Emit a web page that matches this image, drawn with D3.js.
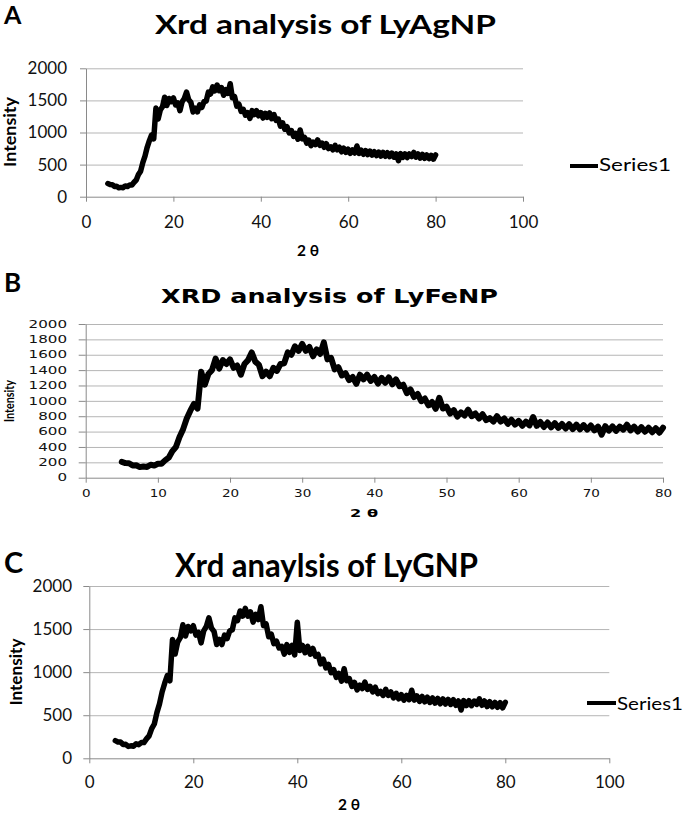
<!DOCTYPE html>
<html><head><meta charset="utf-8">
<script src="https://cdn.jsdelivr.net/npm/d3@7"></script>
<style>body{margin:0;background:#fff}svg{display:block}</style>
</head><body>
<svg id="c" width="685" height="814"></svg>
<script>
// ---- data (2θ sampled from 5° to 80° every 0.5°) ----
const twoThetaStart = 5, twoThetaStep = 0.5;
const intensityAgNP = [
 205,190,188,160,162,138,145,140,168,158,
 182,182,225,260,345,398,530,632,770,872,
 960,900,1380,1210,1350,1400,1550,1420,1530,1480,
 1540,1430,1460,1340,1480,1530,1630,1510,1470,1320,
 1380,1320,1430,1390,1480,1490,1630,1600,1710,1650,
 1740,1650,1700,1580,1670,1610,1760,1540,1560,1410,
 1440,1330,1360,1270,1310,1220,1340,1280,1340,1260,
 1310,1225,1300,1235,1305,1215,1280,1190,1210,1100,
 1150,1050,1090,995,1030,940,985,895,1040,900,
 925,835,880,795,850,810,885,800,835,770,
 825,750,775,730,800,730,770,700,755,690,
 740,675,730,680,790,675,725,660,718,655,
 710,648,700,640,695,632,690,630,685,625,
 680,615,665,560,670,612,668,610,665,625,
 690,615,665,600,658,598,650,592,645,585,
 650];
const intensityFeNP = [
 205,190,188,160,162,138,145,140,168,158,
 182,182,225,260,345,398,530,632,770,872,
 960,900,1380,1210,1350,1400,1550,1420,1530,1480,
 1540,1430,1460,1340,1480,1530,1630,1510,1470,1320,
 1380,1320,1430,1390,1480,1490,1630,1600,1710,1650,
 1740,1650,1700,1580,1670,1610,1760,1540,1560,1410,
 1440,1330,1360,1270,1310,1220,1340,1280,1340,1260,
 1310,1225,1300,1235,1305,1215,1280,1190,1210,1100,
 1150,1050,1090,995,1030,940,985,895,1040,900,
 925,835,880,795,850,810,885,800,835,770,
 825,750,775,730,800,730,770,700,755,690,
 740,675,730,680,790,675,725,660,718,655,
 710,648,700,640,695,632,690,630,685,625,
 680,615,665,560,670,612,668,610,665,625,
 690,615,665,600,658,598,650,592,645,585,
 650];
const intensityGNP = [
 205,190,188,160,162,138,145,140,168,158,
 182,182,225,260,345,398,530,632,770,872,
 960,900,1380,1210,1350,1400,1550,1420,1530,1480,
 1540,1430,1460,1340,1480,1530,1630,1510,1470,1320,
 1380,1320,1430,1390,1480,1490,1630,1600,1710,1650,
 1740,1650,1700,1580,1670,1610,1760,1540,1560,1410,
 1440,1330,1360,1280,1300,1210,1320,1230,1310,1200,
 1580,1250,1310,1225,1300,1210,1275,1185,1205,1095,
 1150,1050,1090,995,1030,940,985,895,1040,900,
 925,835,880,795,850,810,885,800,835,770,
 825,750,775,730,800,730,770,700,755,690,
 740,675,730,680,790,675,725,660,718,655,
 710,648,700,640,695,632,690,630,685,625,
 680,615,665,560,670,612,668,610,665,625,
 690,615,665,600,658,598,650,592,645,585,
 650];
const yTicksAC = [0, 500, 1000, 1500, 2000];
const xTicksAC = [0, 20, 40, 60, 80, 100];
const yTicksB = [0, 200, 400, 600, 800, 1000, 1200, 1400, 1600, 1800, 2000];
const xTicksB = [0, 10, 20, 30, 40, 50, 60, 70, 80];
const titles = ["Xrd analysis of LyAgNP", "XRD analysis of LyFeNP", "Xrd anaylsis of LyGNP"];
const letters = ["A", "B", "C"];
const seriesName = "Series1";
const xTitleText = "2 θ";
const yTitleText = "Intensity";

// ---- layout ----
const panels = [
 {letter: letters[0], title: titles[0], data: intensityAgNP, xTicks: xTicksAC, yTicks: yTicksAC, xMax: 100,
  x0: 86, x1: 523, yTop: 68.3, yBot: 196.7,
  letterPos: {x: 4, y: 24, size: 25}, titlePos: {x: 155, y: 34, size: 27, len: 341, font: "Lato"},
  tick: {font: "Lato", size: 17, yLen: 6, yRight: 67, xLen: 5, xBase: 228, perChar: 0},
  yTitle: {x: 16, y: 132, size: 17, len: 70, font: "Lato"},
  xTitle: {x: 308, y: 256, size: 16, len: 22, font: "Lato"},
  legend: {x0: 570, x1: 598, y: 166, tx: 599, ty: 171, size: 17, len: 72}, stroke: 5.5},
 {letter: letters[1], title: titles[1], data: intensityFeNP, xTicks: xTicksB, yTicks: yTicksB, xMax: 80,
  x0: 85.7, x1: 663, yTop: 324, yBot: 477.7,
  letterPos: {x: 4, y: 292, size: 26}, titlePos: {x: 161, y: 303, size: 20, len: 337, font: "DejaVu Sans"},
  tick: {font: "DejaVu Sans", size: 10, yLen: 7, yRight: 67, xLen: 5, xBase: 497, perChar: 9.6, perCharX: 8.6},
  yTitle: {x: 14, y: 401, size: 12.5, len: 42, font: "Lato"},
  xTitle: {x: 364, y: 517, size: 11, len: 28, font: "DejaVu Sans"},
  legend: null, stroke: 6},
 {letter: letters[2], title: titles[2], data: intensityGNP, xTicks: xTicksAC, yTicks: yTicksAC, xMax: 100,
  x0: 89.3, x1: 609.3, yTop: 586, yBot: 758.3,
  letterPos: {x: 4, y: 573, size: 29}, titlePos: {x: 175, y: 577, size: 33, len: 303, font: "Lato"},
  tick: {font: "Lato", size: 17, yLen: 6, yRight: 72, xLen: 5, xBase: 788, perChar: 0},
  yTitle: {x: 22, y: 672, size: 17, len: 67, font: "Lato"},
  xTitle: {x: 349, y: 810, size: 15, len: 22, font: "Lato"},
  legend: {x0: 587, x1: 616, y: 703, tx: 617, ty: 710, size: 17, len: 66}, stroke: 5.5}
];

const svg = d3.select("#c");
const gridColor = "#b5b5b5", axisColor = "#8a8a8a";
const fmt = d3.format("d");

panels.forEach(p => {
  const g = svg.append("g");
  const x = d3.scaleLinear().domain([0, p.xMax]).range([p.x0, p.x1]);
  const y = d3.scaleLinear().domain([0, 2000]).range([p.yBot, p.yTop]);

  // gridlines
  const grid = g.append("g").attr("transform", `translate(${p.x0},0)`)
    .call(d3.axisLeft(y).tickValues(p.yTicks.filter(v => v > 0)).tickSize(-(p.x1 - p.x0)).tickFormat(""));
  grid.select(".domain").remove();
  grid.selectAll("line").attr("stroke", gridColor).attr("stroke-width", 1);

  // y axis
  const ya = g.append("g").attr("transform", `translate(${p.x0},0)`)
    .call(d3.axisLeft(y).tickValues(p.yTicks).tickFormat(fmt).tickSizeInner(p.tick.yLen).tickSizeOuter(0)
      .tickPadding(p.x0 - p.tick.yLen - p.tick.yRight));
  ya.attr("font-family", p.tick.font).attr("font-size", p.tick.size);
  ya.select(".domain").attr("stroke", axisColor);
  ya.selectAll(".tick line").attr("stroke", axisColor);
  ya.selectAll("text").attr("fill", "#111");
  if (p.tick.perChar) ya.selectAll("text").attr("textLength", d => fmt(d).length * p.tick.perChar).attr("lengthAdjust", "spacingAndGlyphs");

  // x axis
  const xa = g.append("g").attr("transform", `translate(0,${p.yBot})`)
    .call(d3.axisBottom(x).tickValues(p.xTicks).tickFormat(fmt).tickSizeInner(p.tick.xLen).tickSizeOuter(0));
  xa.attr("font-family", p.tick.font).attr("font-size", p.tick.size);
  xa.select(".domain").attr("stroke", axisColor);
  xa.selectAll(".tick line").attr("stroke", axisColor);
  xa.selectAll("text").attr("fill", "#111").attr("y", p.tick.xBase - p.yBot).attr("dy", 0);
  if (p.tick.perCharX) xa.selectAll("text").attr("textLength", d => fmt(d).length * p.tick.perCharX).attr("lengthAdjust", "spacingAndGlyphs");

  // series line
  const line = d3.line()
    .x((d, i) => x(twoThetaStart + i * twoThetaStep))
    .y(d => y(d));
  g.append("path").datum(p.data).attr("d", line)
    .attr("fill", "none").attr("stroke", "#000").attr("stroke-width", p.stroke)
    .attr("stroke-linejoin", "round").attr("stroke-linecap", "round");

  // panel letter
  g.append("text").attr("x", p.letterPos.x).attr("y", p.letterPos.y)
    .attr("font-family", "Lato").attr("font-weight", "bold").attr("font-size", p.letterPos.size)
    .text(p.letter);

  // title
  g.append("text").attr("x", p.titlePos.x).attr("y", p.titlePos.y)
    .attr("font-family", p.titlePos.font).attr("font-weight", "bold").attr("font-size", p.titlePos.size)
    .attr("textLength", p.titlePos.len).attr("lengthAdjust", "spacingAndGlyphs")
    .text(p.title);

  // y title
  g.append("text").attr("transform", `translate(${p.yTitle.x},${p.yTitle.y}) rotate(-90)`)
    .attr("text-anchor", "middle").attr("font-family", p.yTitle.font).attr("font-weight", "bold")
    .attr("font-size", p.yTitle.size).attr("textLength", p.yTitle.len).attr("lengthAdjust", "spacingAndGlyphs")
    .text(yTitleText);

  // x title
  g.append("text").attr("x", p.xTitle.x).attr("y", p.xTitle.y)
    .attr("text-anchor", "middle").attr("font-family", p.xTitle.font).attr("font-weight", "bold")
    .attr("font-size", p.xTitle.size).attr("textLength", p.xTitle.len).attr("lengthAdjust", "spacingAndGlyphs")
    .text(xTitleText);

  // legend
  if (p.legend) {
    g.append("line").attr("x1", p.legend.x0).attr("x2", p.legend.x1)
      .attr("y1", p.legend.y).attr("y2", p.legend.y)
      .attr("stroke", "#000").attr("stroke-width", 4);
    g.append("text").attr("x", p.legend.tx).attr("y", p.legend.ty)
      .attr("font-family", "Lato").attr("font-size", p.legend.size)
      .attr("textLength", p.legend.len).attr("lengthAdjust", "spacingAndGlyphs")
      .text(seriesName);
  }
});
</script>
</body></html>
